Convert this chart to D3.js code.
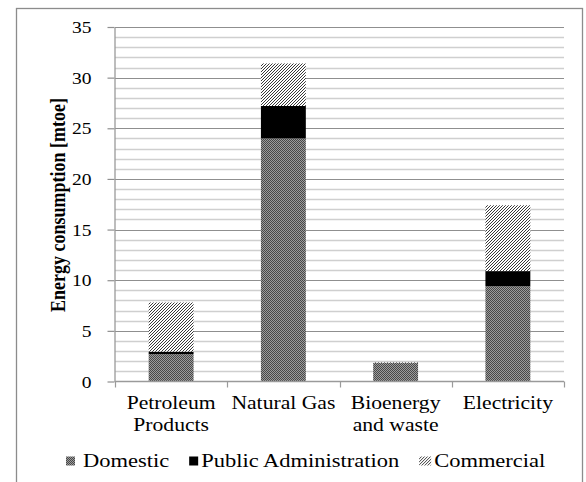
<!DOCTYPE html>
<html>
<head>
<meta charset="utf-8">
<script src="https://cdn.jsdelivr.net/npm/d3@7"></script>
<style>
    body { margin: 0; background: #fff; }
</style>
</head>
<body>
<div id="chart-area"></div>
<script>

// Data (mtoe)
var categories = ["Petroleum Products", "Natural Gas", "Bioenergy and waste", "Electricity"];
var categoryLines = [["Petroleum", "Products"], ["Natural Gas"], ["Bioenergy", "and waste"], ["Electricity"]];
var seriesNames = ["Domestic", "Public Administration", "Commercial"];
var domestic = [2.7, 24.0, 1.85, 9.4];
var publicAdmin = [0.25, 3.2, 0, 1.5];
var commercial = [4.85, 4.2, 0.05, 6.5];
var yTicks = [0, 5, 10, 15, 20, 25, 30, 35];

// SVG Size
var width = 586,
    height = 482;

// text in the picture is a little stretched sideways
var sx = 1.22;
var serif = "'Liberation Serif', 'Times New Roman', 'Noto Serif', 'DejaVu Serif', Tinos, 'Nimbus Roman', FreeSerif, serif";

var plot = {left: 115, right: 564, top: 27, bottom: 381.5};

var svg = d3.select("#chart-area")
    .append("svg")
    .attr("width", width)
    .attr("height", height)
    .attr("font-family", serif);

// patterns
var defs = svg.append("defs");

var pDom = defs.append("pattern")
    .attr("id", "pat-domestic")
    .attr("patternUnits", "userSpaceOnUse")
    .attr("width", 2)
    .attr("height", 2);
pDom.append("rect").attr("width", 2).attr("height", 2).attr("fill", "#9c9c9c");
pDom.append("rect").attr("width", 1).attr("height", 1).attr("fill", "#484848");
pDom.append("rect").attr("x", 1).attr("y", 1).attr("width", 1).attr("height", 1).attr("fill", "#484848");

var pCom = defs.append("pattern")
    .attr("id", "pat-commercial")
    .attr("patternUnits", "userSpaceOnUse")
    .attr("width", 3)
    .attr("height", 3);
pCom.append("rect").attr("width", 3).attr("height", 3).attr("fill", "#fff");
pCom.append("path")
    .attr("d", "M-1,1 l2,-2 M0,3 l3,-3 M2,4 l2,-2")
    .attr("stroke", "#222")
    .attr("stroke-width", 0.9);

var fills = ["url(#pat-domestic)", "#000", "url(#pat-commercial)"];

// outer frame
svg.append("rect")
    .attr("x", 16.5)
    .attr("y", 8.5)
    .attr("width", 566)
    .attr("height", 490)
    .attr("fill", "none")
    .attr("stroke", "#8c8c8c")
    .attr("stroke-width", 1.3);

// scales
var yScale = d3.scaleLinear()
    .domain([0, 35])
    .range([plot.bottom, plot.top]);

var xScale = d3.scaleBand()
    .domain(categories)
    .range([plot.left, plot.right])
    .paddingInner(0.6)
    .paddingOuter(0.3);

// gridlines: minor every 1, major every 5
var gridVals = d3.range(1, 36);
svg.append("g")
    .selectAll("line")
    .data(gridVals.filter(function (d) { return d % 5 !== 0; }))
    .enter()
    .append("line")
    .attr("x1", plot.left)
    .attr("x2", plot.right)
    .attr("y1", function (d) { return Math.round(yScale(d)) + 0.5; })
    .attr("y2", function (d) { return Math.round(yScale(d)) + 0.5; })
    .attr("stroke", "#cfcfcf")
    .attr("stroke-width", 1.4);

svg.append("g")
    .selectAll("line")
    .data(gridVals.filter(function (d) { return d % 5 === 0; }))
    .enter()
    .append("line")
    .attr("x1", plot.left)
    .attr("x2", plot.right)
    .attr("y1", function (d) { return Math.round(yScale(d)) + 0.5; })
    .attr("y2", function (d) { return Math.round(yScale(d)) + 0.5; })
    .attr("stroke", "#8f8f8f")
    .attr("stroke-width", 1.2);

// stacked bars
var table = categories.map(function (c, i) {
    return {cat: c, "Domestic": domestic[i], "Public Administration": publicAdmin[i], "Commercial": commercial[i]};
});
var stacked = d3.stack().keys(seriesNames)(table);

svg.append("g")
    .selectAll("g")
    .data(stacked)
    .enter()
    .append("g")
    .attr("fill", function (d, i) { return fills[i]; })
    .selectAll("rect")
    .data(function (d) { return d; })
    .enter()
    .append("rect")
    .attr("x", function (d) { return xScale(d.data.cat); })
    .attr("width", xScale.bandwidth())
    .attr("y", function (d) { return yScale(d[1]); })
    .attr("height", function (d) { return yScale(d[0]) - yScale(d[1]); });

// y axis
var yAxis = d3.axisLeft()
    .scale(yScale)
    .tickValues(yTicks)
    .tickSize(7)
    .tickSizeOuter(0);

var yG = svg.append("g")
    .attr("transform", "translate(" + (plot.left - 0.5) + ",0)")
    .call(yAxis)
    .attr("font-family", serif);
yG.select(".domain").attr("stroke", "#9a9a9a").attr("stroke-width", 1.3);
yG.selectAll(".tick line").attr("stroke", "#8f8f8f").attr("stroke-width", 1.2);
yG.selectAll(".tick text")
    .attr("x", 0)
    .attr("dy", null)
    .attr("transform", "translate(-23,5.5) scale(" + sx + ",1)")
    .attr("font-size", 16)
    .attr("fill", "#000");

// x axis line and category ticks
var xG = svg.append("g");
xG.append("line")
    .attr("x1", plot.left)
    .attr("x2", plot.right)
    .attr("y1", plot.bottom)
    .attr("y2", plot.bottom)
    .attr("stroke", "#9a9a9a")
    .attr("stroke-width", 1.3);

var step = xScale.step();
xG.selectAll(".xtick")
    .data(d3.range(categories.length + 1))
    .enter()
    .append("line")
    .attr("x1", function (i) { return Math.round(plot.left + i * step) + 0.5; })
    .attr("x2", function (i) { return Math.round(plot.left + i * step) + 0.5; })
    .attr("y1", plot.bottom)
    .attr("y2", plot.bottom + 6)
    .attr("stroke", "#9a9a9a")
    .attr("stroke-width", 1.2);

var catLabels = xG.selectAll(".cat")
    .data(categories)
    .enter()
    .append("text")
    .attr("class", "cat")
    .attr("text-anchor", "middle")
    .attr("font-size", 19)
    .attr("transform", function (d) {
        return "translate(" + (xScale(d) + xScale.bandwidth() / 2) + ",409) scale(1.14,1)";
    });
catLabels.selectAll("tspan")
    .data(function (d, i) { return categoryLines[i]; })
    .enter()
    .append("tspan")
    .attr("x", 0)
    .attr("y", function (d, i) { return i * 22; })
    .text(function (d) { return d; });

// y axis title
svg.append("text")
    .attr("text-anchor", "middle")
    .attr("font-weight", "bold")
    .attr("font-size", 18)
    .attr("transform", "translate(65,205) rotate(-90) scale(1,1.15)")
    .text("Energy consumption [mtoe]");

// legend
var legend = svg.append("g");
var lx = 66;
seriesNames.forEach(function (name, i) {
    var g = legend.append("g").attr("transform", "translate(" + lx + ",0)");
    var boxW = i === 2 ? 12 : 9;
    var gap = i === 0 ? 8 : 3;
    g.append("rect")
        .attr("x", 0)
        .attr("y", 456.5)
        .attr("width", boxW)
        .attr("height", 9)
        .attr("fill", fills[i]);
    var t = g.append("text")
        .attr("font-size", 18)
        .attr("transform", "translate(" + (boxW + gap) + ",467) scale(1.25,1)")
        .text(name);
    lx += boxW + gap + t.node().getComputedTextLength() * 1.25 + 20;
});

</script>
</body>
</html>
